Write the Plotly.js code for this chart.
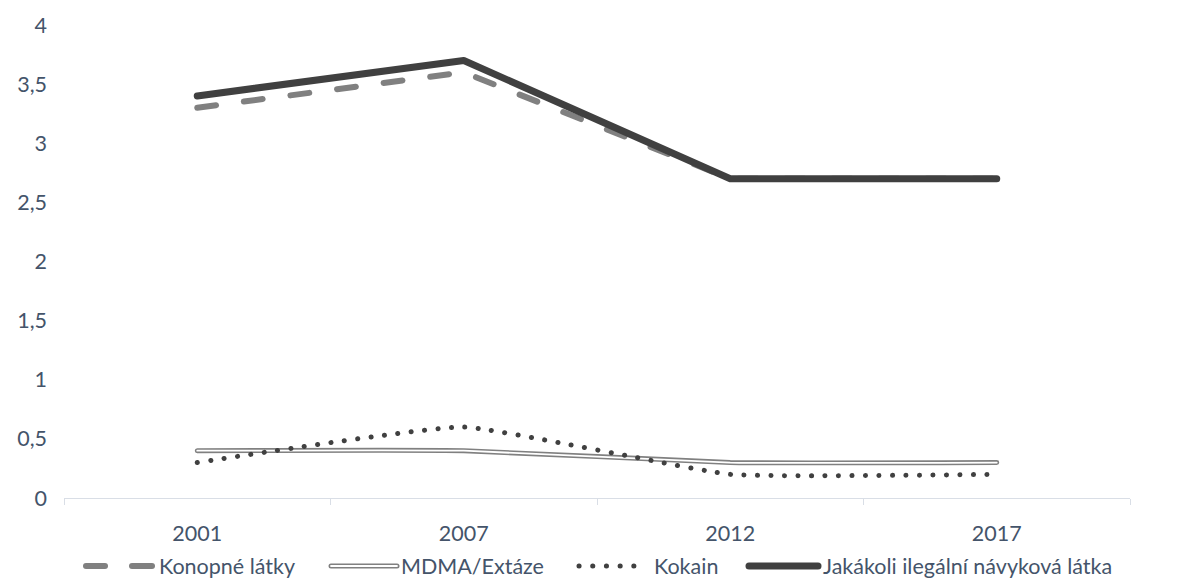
<!DOCTYPE html>
<html><head><meta charset="utf-8">
<script src="https://cdn.plot.ly/plotly-3.0.1.min.js"></script>
<style>
html,body{margin:0;padding:0;background:#fff;}
.scatterlayer .js-line, .shapelayer path { stroke-linecap: round !important; stroke-linejoin: round !important; }
</style></head>
<body><div id="chart" style="width:1186px;height:579px;"></div>
<script>
const years = ['2001','2007','2012','2017'];
const konopne = [3.3, 3.6, 2.7, 2.7];
const mdma = [0.4, 0.4, 0.3, 0.3];
const kokain = [0.3, 0.6, 0.2, 0.2];
const jakakoli = [3.4, 3.7, 2.7, 2.7];
const seriesNames = ['Konopné látky','MDMA/Extáze','Kokain','Jakákoli ilegální návyková látka'];
const yTicks = [0,0.5,1,1.5,2,2.5,3,3.5,4];

const W=1186,H=579, L=64, R=56, T=25, B=81;
const pw=W-L-R, ph=H-T-B;
const px=x=>(x-L)/pw, py=y=>(H-B-y)/ph;
const fontFam='Lato, "Open Sans", sans-serif';
const txtCol='#44546A';
const fs=21.5;

const traces=[
 {x:years,y:konopne,name:seriesNames[0],mode:'lines',line:{color:'#808080',width:6,dash:'19px,28px'},showlegend:false,hoverinfo:'skip'},
 {x:years,y:mdma,name:seriesNames[1],mode:'lines',line:{color:'#808080',width:5,shape:'spline',smoothing:0.35},showlegend:false,hoverinfo:'skip'},
 {x:years,y:mdma,name:seriesNames[1]+' inner',mode:'lines',line:{color:'#ffffff',width:1.8,shape:'spline',smoothing:0.35},showlegend:false,hoverinfo:'skip'},
 {x:years,y:kokain,name:seriesNames[2],mode:'lines',line:{color:'#404040',width:5,dash:'0.1px,13.4px',shape:'spline',smoothing:0.35},showlegend:false,hoverinfo:'skip'},
 {x:years,y:jakakoli,name:seriesNames[3],mode:'lines',line:{color:'#404040',width:7},showlegend:false,hoverinfo:'skip'}
];

const ly=566;
const shapes=[
 {type:'line',xref:'paper',yref:'paper',x0:px(86),x1:px(105),y0:py(ly),y1:py(ly),line:{color:'#808080',width:6}},
 {type:'line',xref:'paper',yref:'paper',x0:px(132),x1:px(152),y0:py(ly),y1:py(ly),line:{color:'#808080',width:6}},
 {type:'line',xref:'paper',yref:'paper',x0:px(331),x1:px(397),y0:py(ly),y1:py(ly),line:{color:'#808080',width:5}},
 {type:'line',xref:'paper',yref:'paper',x0:px(331),x1:px(397),y0:py(ly),y1:py(ly),line:{color:'#ffffff',width:1.8}},
 {type:'line',xref:'paper',yref:'paper',x0:px(579),x1:px(634),y0:py(ly),y1:py(ly),line:{color:'#404040',width:5,dash:'0.1px,13.6px'}},
 {type:'line',xref:'paper',yref:'paper',x0:px(749),x1:px(818),y0:py(ly),y1:py(ly),line:{color:'#404040',width:7}}
];
const legX=[157,399,652,821];
const annotations=seriesNames.map((n,i)=>({text:n,xref:'paper',yref:'paper',x:px(legX[i]),y:py(ly),xanchor:'left',yanchor:'middle',showarrow:false,font:{family:fontFam,size:fs,color:txtCol}}));

const layout={
 width:W,height:H,margin:{l:L,r:R,t:T,b:B},
 paper_bgcolor:'#fff',plot_bgcolor:'#fff',
 separators:', ',
 font:{family:fontFam,size:fs,color:txtCol},
 showlegend:false,
 xaxis:{type:'category',categoryorder:'array',categoryarray:years,range:[-0.5,3.5],showgrid:false,zeroline:false,
   showline:true,linecolor:'#D9DEE6',linewidth:1,ticks:'outside',tickson:'boundaries',ticklen:6,tickcolor:'#D9DEE6',
   tickfont:{family:fontFam,size:fs,color:txtCol},ticklabelstandoff:16,fixedrange:true},
 yaxis:{range:[0,4],tickvals:yTicks,showgrid:false,zeroline:false,showline:false,ticks:'',ticklabelstandoff:16,
   tickfont:{family:fontFam,size:fs,color:txtCol},tickformat:'.1~f',fixedrange:true},
 yaxis2:{range:[0,4],overlaying:'y',side:'right',tickvals:yTicks,showgrid:false,zeroline:false,showline:false,ticks:'',ticklabelstandoff:16,
   tickfont:{family:fontFam,size:fs,color:txtCol},tickformat:'.1~f',fixedrange:true},
 shapes:shapes,annotations:annotations
};
Plotly.newPlot('chart',traces,layout,{staticPlot:true,displayModeBar:false});
</script></body></html>
